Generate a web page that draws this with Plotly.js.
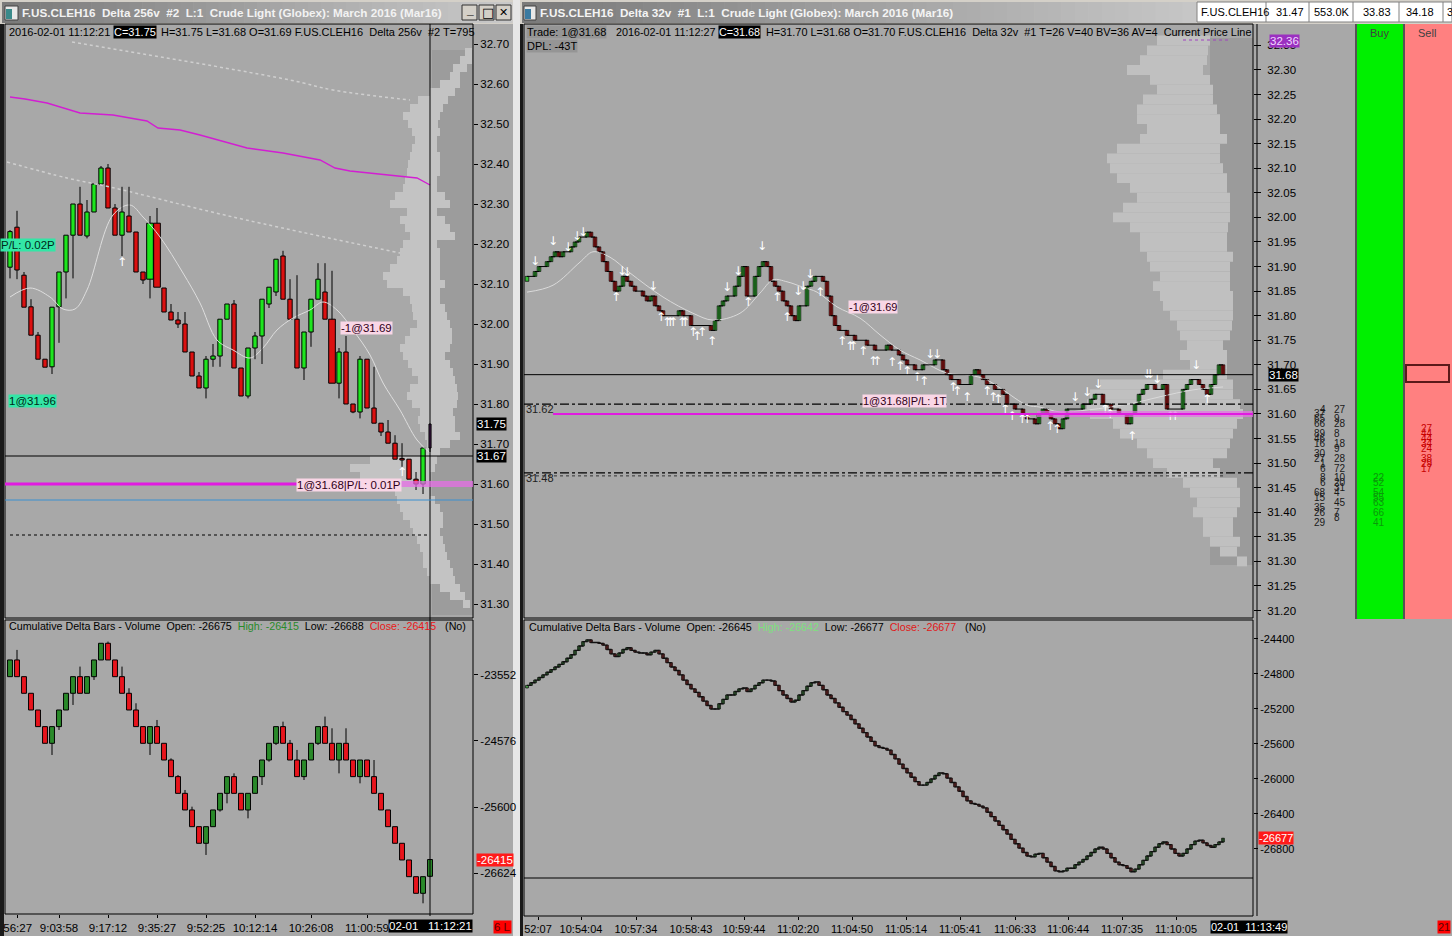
<!DOCTYPE html>
<html><head><meta charset="utf-8">
<script src="https://cdn.plot.ly/plotly-3.0.1.min.js"></script>
<style>html,body{margin:0;padding:0;background:#a8a8a8;overflow:hidden}</style>
</head><body><div id="chart" style="width:1452px;height:936px"></div>
<script>
// ================= DATA =================
// Left window: Delta 256v price bars
const leftOpen  = [32.142,32.242,32.122,32.043,31.972,31.912,31.893,32.043,32.13,32.222, 32.30,32.22,32.28,32.35,32.39,32.29,32.222,32.27,32.23,32.13, 32.112,32.252,32.09,32.03,32.01,32.00,31.93,31.87,31.84,31.912, 31.92,32.012,32.05,31.89,31.82,31.94,31.97,32.05,32.08,32.17, 32.062,32.012,31.89,31.98,32.062,32.08,32.012,31.852,31.93,31.80, 31.78,31.912,31.79,31.752,31.73,31.702,31.662,31.662,31.612,31.60, 31.69];
const leftHigh  = [32.235,32.283,32.13,32.062,31.98,31.912,32.042,32.13,32.222,32.30, 32.343,32.31,32.35,32.395,32.40,32.30,32.343,32.343,32.23,32.13, 32.27,32.29,32.09,32.05,32.03,32.03,31.93,31.88,31.92,31.95, 32.012,32.05,32.06,31.89,31.94,31.98,32.062,32.092,32.162,32.183, 32.112,32.122,31.98,32.062,32.152,32.152,32.133,31.94,31.97,31.80, 31.92,31.912,31.893,31.752,31.76,31.722,31.702,31.662,31.63,31.69, 31.75];
const leftLow   = [32.114,32.112,32.042,31.972,31.912,31.892,31.875,31.953,32.064,32.114, 32.222,32.214,32.28,32.35,32.29,32.222,32.17,32.23,32.13,32.10, 32.064,32.092,32.03,32.01,31.99,31.93,31.87,31.84,31.814,31.893, 31.893,32.012,31.89,31.82,31.814,31.912,31.90,32.04,32.07,32.062, 32.012,31.89,31.86,31.943,32.062,32.012,31.852,31.814,31.80,31.777, 31.764,31.79,31.752,31.72,31.702,31.662,31.643,31.612,31.585,31.575, 31.68];
const leftClose = [32.231,32.135,32.042,31.972,31.912,31.892,32.042,32.13,32.222,32.30, 32.222,32.28,32.35,32.39,32.29,32.222,32.28,32.23,32.13,32.11, 32.252,32.092,32.03,32.01,32.00,31.93,31.87,31.84,31.912,31.92, 32.012,32.05,31.89,31.82,31.94,31.97,32.062,32.092,32.162,32.062, 32.012,31.89,31.98,32.062,32.112,32.012,31.852,31.93,31.80,31.78, 31.912,31.79,31.752,31.73,31.702,31.662,31.66,31.612,31.60,31.69, 31.75];
// moving average / VWAP / bands (bar index, price)
const leftMaIdx = [0,2.86,5.71,7.57,9.29,11,14.71,17.14,19,21.43,24.71,27.14,29.57,31.86,34.29,36.14,38.14,40.43,42.86,44.71,46.71,49,51.43,53.29,55.71,58.14,60];
const leftMaVal = [32.0675,32.09,32.0675,32.0375,32.0375,32.085,32.2725,32.2975,32.2675,32.2175,32.1275,32.0525,31.96,31.935,31.915,31.94,31.985,32.015,32.035,32.055,32.035,31.985,31.9225,31.8525,31.785,31.71,31.6775];
const vwapIdx = [0,2.14,5.29,10,14.71,19.57,21.14,24.29,27.14,33.86,39,44.29,46.43,48.57,58.14,60];
const vwapVal = [32.5675,32.5625,32.5525,32.5275,32.5225,32.5075,32.49,32.485,32.4725,32.44,32.4275,32.41,32.39,32.3825,32.365,32.3475];
const bandHiIdx = [8.86,40,46.14,57.14];
const bandHiVal = [32.705,32.61,32.585,32.56];
const bandLoIdx = [-0.43,8.14,14.29,31.86,55.71];
const bandLoVal = [32.405,32.365,32.3425,32.2675,32.1775];
const leftUpIdx = [16,56];
const leftUpPx  = [32.1525,31.6275];
// left volume profile (price, total, inner)
const lpPrice = [32.68,32.66,32.64,32.62,32.60,32.58,32.56,32.54,32.52,32.50,32.48,32.46,32.44,32.42,32.40,32.38,32.36,32.34,32.32,32.30,32.28,32.26,32.24,32.22,32.20,32.18,32.16,32.14,32.12,32.10,32.08,32.06,32.04,32.02,32.00,31.98,31.96,31.94,31.92,31.90,31.88,31.86,31.84,31.82,31.80,31.78,31.76,31.74,31.72,31.70,31.68,31.66,31.64,31.62,31.60,31.58,31.56,31.54,31.52,31.50,31.48,31.46,31.44,31.42,31.40,31.38,31.36,31.34,31.32,31.30];
const lpTotal = [8,13,20,23,33,43,55,63,70,65,61,58,61,63,65,66,68,70,78,83,66,73,68,63,70,73,76,83,90,86,70,63,61,60,56,63,68,73,70,65,61,55,63,66,61,53,55,53,48,46,53,103,123,113,80,78,76,73,70,63,60,56,53,50,50,46,43,33,23,10];
const lpInner = [1,1,6,13,13,18,25,30,33,35,33,36,36,33,33,33,36,36,28,23,36,28,23,18,36,33,33,33,33,28,33,33,28,26,23,21,21,23,28,23,20,18,16,15,16,20,18,18,13,23,33,36,38,43,43,43,38,33,30,30,33,30,28,26,23,20,18,13,8,3];
// left cumulative delta bars
const lcdOpen  = [-23578,-23319,-23578,-23836,-24095,-24353,-24612,-24353,-24095,-23836, -23578,-23836,-23578,-23319,-23060,-23319,-23578,-23836,-24095,-24353, -24612,-24353,-24612,-24871,-25129,-25388,-25646,-25905,-26163,-25905, -25646,-25388,-25129,-25388,-25646,-25388,-25129,-24871,-24612,-24353, -24612,-24871,-25129,-24871,-24612,-24353,-24612,-24871,-24612,-24871, -25129,-24871,-25129,-25388,-25646,-25905,-26163,-26422,-26681,-26939, -26675];
const lcdClose = [-23319,-23578,-23836,-24095,-24353,-24612,-24353,-24095,-23836,-23578, -23836,-23578,-23319,-23060,-23319,-23578,-23836,-24095,-24353,-24612, -24353,-24612,-24871,-25129,-25388,-25646,-25905,-26163,-25905,-25646, -25388,-25129,-25388,-25646,-25388,-25129,-24871,-24612,-24353,-24612, -24871,-25129,-24871,-24612,-24353,-24612,-24871,-24612,-24871,-25129, -24871,-25129,-25388,-25646,-25905,-26163,-26422,-26681,-26939,-26681, -26415];
const lcdHigh  = [-23319,-23163,-23578,-23836,-24095,-24353,-24353,-24095,-23836,-23578, -23422,-23578,-23319,-23060,-23034,-23319,-23422,-23758,-23991,-24353, -24353,-24250,-24612,-24845,-25104,-25336,-25595,-25905,-25905,-25646, -25388,-25129,-25078,-25388,-25388,-25129,-24871,-24612,-24353,-24276, -24560,-24715,-24871,-24612,-24353,-24198,-24379,-24612,-24379,-24871, -24871,-24871,-24871,-25388,-25646,-25905,-26163,-26422,-26681,-26681, -26415];
const lcdLow   = [-23578,-23578,-23836,-24095,-24353,-24612,-24793,-24405,-24095,-24017, -23836,-23836,-23629,-23319,-23319,-23578,-23836,-24095,-24353,-24612, -24793,-24612,-24871,-25129,-25388,-25646,-25905,-26163,-26344,-25905, -25672,-25543,-25388,-25646,-25776,-25388,-25259,-24897,-24638,-24612, -24871,-25129,-25181,-24871,-24638,-24612,-24871,-25078,-24871,-25129, -25233,-25129,-25388,-25646,-25905,-26163,-26422,-26681,-26939,-27094, -26688];
const leftTimeIdx  = [1.1,7,14,21,28,35,43,51];
const leftTimeText = ['56:27','9:03:58','9:17:12','9:35:27','9:52:25','10:12:14','10:26:08','11:00:59'];
const lcdTicks = [-23552,-24576,-25600,-26624];

// Right window: Delta 32v price bars (closes; each bar opens at the previous close)
const rightFirstOpen = 31.87;
const rightClose = [31.88,31.88,31.89,31.90,31.90,31.91,31.92,31.93,31.92,31.93, 31.93,31.94,31.95,31.96,31.96,31.97,31.96,31.94,31.93,31.91, 31.89,31.87,31.85,31.86,31.88,31.87,31.86,31.85,31.85,31.84, 31.83,31.84,31.82,31.81,31.80,31.80,31.80,31.80,31.81,31.80, 31.80,31.78,31.78,31.78,31.78,31.78,31.77,31.79,31.82,31.83, 31.84,31.84,31.86,31.88,31.90,31.84,31.84,31.88,31.90,31.91, 31.90,31.87,31.86,31.85,31.83,31.82,31.80,31.79,31.82,31.82, 31.86,31.87,31.88,31.88,31.87,31.84,31.80,31.78,31.77,31.77, 31.76,31.76,31.75,31.75,31.75,31.74,31.74,31.73,31.73,31.73, 31.74,31.73,31.73,31.72,31.71,31.70,31.70,31.69,31.69,31.70, 31.70,31.70,31.71,31.71,31.69,31.68,31.67,31.67,31.66,31.66, 31.66,31.68,31.69,31.68,31.67,31.66,31.66,31.65,31.65,31.64, 31.62,31.62,31.61,31.61,31.60,31.59,31.59,31.58,31.60,31.61, 31.60,31.59,31.58,31.57,31.59,31.61,31.61,31.61,31.61,31.62, 31.62,31.63,31.64,31.64,31.62,31.62,31.61,31.61,31.60,31.60, 31.58,31.60,31.62,31.64,31.65,31.66,31.66,31.65,31.65,31.66, 31.61,31.61,31.61,31.61,31.65,31.66,31.67,31.67,31.66,31.65, 31.64,31.66,31.68,31.70,31.68];
const rightMaIdx = [0,6.5,13.25,16.5,20.75,25.75,34,41.5,46.5,53.25,58.25,61.5,65,69,72.5,77.5,83.25,88.25,93.25,98.25,105,110.75,115,119,125,128.25,133.25,140,145.75,151.5,158.25,166.5,174];
const rightMaVal = [31.848,31.862,31.909,31.930,31.919,31.887,31.838,31.805,31.791,31.805,31.846,31.873,31.869,31.858,31.848,31.818,31.795,31.761,31.730,31.710,31.683,31.679,31.669,31.649,31.618,31.614,31.604,31.608,31.614,31.622,31.635,31.649,31.655];
const rDnIdx = [2,6.5,10.25,12.5,14,23.75,25,31.5,50,52.75,58.75,67.75,69,70.75,100.75,102.5,137,140,142.75,155,155.75,157.5,167.25];
const rDnPx  = [31.909,31.95,31.938,31.96,31.968,31.889,31.887,31.858,31.856,31.889,31.94,31.848,31.858,31.883,31.72,31.72,31.633,31.643,31.659,31.679,31.679,31.669,31.698];
const rUpIdx = [22.25,33.5,35,35.75,36.5,38.75,39.5,41.5,42.5,43.75,46.25,55.25,62.5,65,73.25,78.75,80.75,81.5,84,86.5,87.5,91.25,93.25,95,97.5,99.25,106.5,107.5,110,115,116.5,117.75,119.5,121.25,123.75,125,130.75,132.5,144.5,145.75,151.25,160.75,162,170];
const rUpPx  = [31.836,31.795,31.785,31.785,31.785,31.785,31.785,31.765,31.757,31.765,31.746,31.826,31.836,31.795,31.846,31.746,31.736,31.736,31.726,31.706,31.706,31.704,31.696,31.685,31.673,31.665,31.653,31.645,31.633,31.645,31.633,31.628,31.608,31.594,31.588,31.588,31.573,31.567,31.608,31.598,31.553,31.594,31.594,31.628];
// right volume profile (price, total, inner)
const rpPrice = [32.36,32.34,32.32,32.30,32.28,32.26,32.24,32.22,32.20,32.18,32.16,32.14,32.12,32.10,32.08,32.06,32.04,32.02,32.00,31.98,31.96,31.94,31.92,31.90,31.88,31.86,31.84,31.82,31.80,31.78,31.76,31.74,31.72,31.70,31.68,31.66,31.64,31.62,31.60,31.58,31.56,31.54,31.52,31.50,31.48,31.46,31.44,31.42,31.40,31.38,31.36,31.34,31.32,31.30];
const rpTotal = [96,106,113,126,103,96,110,116,116,106,113,136,146,143,136,123,116,130,140,123,113,113,106,103,93,100,93,90,83,76,73,66,73,63,90,153,163,166,163,140,133,116,106,100,86,70,63,56,60,50,50,43,33,16];
const rpInner = [43,45,46,50,43,40,40,36,33,33,26,33,33,30,26,26,23,23,23,25,26,26,20,23,23,23,20,20,20,21,23,30,26,26,26,20,20,13,10,16,20,23,26,40,33,16,13,13,16,20,20,13,16,6];
// right cumulative delta (closes)
const rightCD = [-24930,-24900,-24870,-24840,-24810,-24780,-24750,-24720,-24690,-24660, -24620,-24580,-24530,-24480,-24430,-24410,-24440,-24440,-24450,-24470, -24520,-24570,-24600,-24560,-24520,-24500,-24530,-24550,-24560,-24560, -24580,-24550,-24530,-24570,-24620,-24670,-24720,-24760,-24810,-24870, -24920,-24970,-25010,-25060,-25110,-25160,-25200,-25200,-25140,-25090, -25040,-25040,-25000,-24970,-24960,-25000,-24970,-24930,-24900,-24870, -24870,-24880,-24930,-24990,-25040,-25080,-25120,-25100,-25040,-24990, -24940,-24900,-24890,-24930,-24980,-25040,-25080,-25130,-25180,-25230, -25270,-25320,-25370,-25420,-25470,-25520,-25570,-25620,-25640,-25650, -25670,-25720,-25770,-25830,-25880,-25930,-25980,-26030,-26070,-26070, -26040,-26000,-25960,-25930,-25940,-25990,-26040,-26090,-26140,-26200, -26250,-26280,-26290,-26310,-26330,-26380,-26430,-26480,-26530,-26580, -26630,-26690,-26740,-26790,-26840,-26880,-26890,-26860,-26850,-26900, -26950,-27000,-27050,-27060,-27050,-27020,-27020,-26980,-26950,-26920, -26880,-26840,-26800,-26780,-26800,-26850,-26900,-26950,-26980,-26990, -27020,-27060,-27030,-26980,-26930,-26880,-26830,-26780,-26740,-26720, -26750,-26800,-26850,-26880,-26850,-26800,-26750,-26710,-26700,-26730, -26760,-26780,-26750,-26720,-26677];
const rightCDFirstOpen = -24960;
const rightTimeIdx  = [2.75,13.5,27.25,41,54.25,67.75,81.25,94.75,108.25,122,135.25,148.75,162.25];
const rightTimeText = ['52:07','10:54:04','10:57:34','10:58:43','10:59:44','11:02:20','11:04:50','11:05:14','11:05:41','11:06:33','11:06:44','11:07:35','11:10:05'];
const rcdTicks = [-24400,-24800,-25200,-25600,-26000,-26400,-26800];
// DOM-style columns
const bidPx   = [31.61,31.60,31.59,31.58,31.56,31.55,31.54,31.52,31.51,31.50,31.49,31.47,31.46,31.44,31.43,31.41,31.40,31.38];
const bidVals = [4,37,65,66,89,46,16,30,27,1,6,8,6,68,15,35,26,29];
const askPx   = [31.61,31.59,31.58,31.56,31.54,31.53,31.51,31.49,31.47,31.46,31.45,31.44,31.42,31.40,31.39];
const askVals = [27,9,28,8,18,9,28,72,10,20,31,4,45,7,8];
const buyPx   = [31.47,31.46,31.44,31.43,31.42,31.40,31.38];
const buyVals = [22,52,54,55,63,66,41];
const sellPx  = [31.57,31.56,31.55,31.54,31.53,31.51,31.50,31.49];
const sellVals= [27,44,44,34,24,38,29,17];
// price levels
const leftLevels  = {current:31.67, vwapLine:31.60, blue:31.56, dotted:31.4725, lastBox:31.75};
const rightLevels = {current:31.68, dashHi:31.62, magenta:31.60, dashLo:31.48, dotted:31.474, topBox:32.36};
const quoteCells = ['F.US.CLEH16','31.47','553.0K','33.83','34.18','3'];

// ================= LAYOUT HELPERS =================
const W=1452,H=936;
const PX=x=>x/W, PY=y=>1-y/H;
const FONT='Liberation Sans';
const shapes=[], annotations=[];
function R(x0,y0,x1,y1,fill,o={}){shapes.push(Object.assign({type:'rect',xref:'paper',yref:'paper',x0:PX(x0),x1:PX(x1),y0:PY(y0),y1:PY(y1),fillcolor:fill,line:{width:0},layer:'below'},o));}
function Ln(x0,y0,x1,y1,color,width,o={}){shapes.push(Object.assign({type:'line',xref:'paper',yref:'paper',x0:PX(x0),x1:PX(x1),y0:PY(y0),y1:PY(y1),line:{color:color,width:width},layer:'above'},o));}
function HL(yref,price,x0,x1,color,width,dash,layer){shapes.push({type:'line',xref:'paper',yref:yref,x0:PX(x0),x1:PX(x1),y0:price,y1:price,line:{color:color,width:width,dash:dash||'solid'},layer:layer||'above'});}
function A(text,x,y,o={}){annotations.push(Object.assign({text:text,x:PX(x),y:PY(y),xref:'paper',yref:'paper',xanchor:'left',yanchor:'middle',showarrow:false,borderpad:0,font:{family:FONT,size:11,color:'#000'}},o));}
function hex(c){return [1,3,5].map(i=>parseInt(c.substr(i,2),16));}
function grad(x0,x1,y0,y1,c0,c1,n){const a=hex(c0),b=hex(c1);for(let k=0;k<n;k++){const t=k/(n-1);const c='rgb('+a.map((v,i)=>Math.round(v+(b[i]-v)*t)).join(',')+')';R(x0+(x1-x0)*k/n,y0,x0+(x1-x0)*(k+1)/n+0.6,y1,c);}}

// ================= TRACES =================
const traces=[];
function candleTraces(xa,ya,idx,o,h,l,c,colors,widths,minH,lineW){
  const wx=[],wy=[];
  idx.forEach((x,i)=>{const top=Math.max(o[i],c[i]),bot=Math.min(o[i],c[i]);
    if(h&&h[i]>top){wx.push(x,x,null);wy.push(top,h[i],null);}
    if(l&&l[i]<bot){wx.push(x,x,null);wy.push(l[i],bot,null);} });
  traces.push({type:'bar',xaxis:xa,yaxis:ya,x:idx,y:idx.map((_,i)=>Math.max(Math.abs(c[i]-o[i]),minH)),base:idx.map((_,i)=>Math.min(o[i],c[i])),width:widths,marker:{color:colors,line:{color:'#000',width:lineW}},hoverinfo:'skip'});
  traces.push({type:'scatter',mode:'lines',xaxis:xa,yaxis:ya,x:wx,y:wy,line:{color:'#000',width:1},hoverinfo:'skip'});
}

// --- left profile (base subplot x/y) ---
traces.push({type:'bar',orientation:'h',xaxis:'x',yaxis:'y',y:lpPrice,x:lpTotal.map((v,i)=>v-lpInner[i]),base:lpInner,width:0.02,marker:{color:'#c3c3c3',line:{width:0}},hoverinfo:'skip'});
// --- left lines ---
traces.push({type:'scatter',mode:'lines',xaxis:'x2',yaxis:'y',x:bandHiIdx,y:bandHiVal,line:{color:'#cfcfcf',width:1.5,dash:'dot',shape:'spline'},hoverinfo:'skip'});
traces.push({type:'scatter',mode:'lines',xaxis:'x2',yaxis:'y',x:bandLoIdx,y:bandLoVal,line:{color:'#cfcfcf',width:1.5,dash:'dot',shape:'spline'},hoverinfo:'skip'});
traces.push({type:'scatter',mode:'lines',xaxis:'x2',yaxis:'y',x:vwapIdx,y:vwapVal,line:{color:'#d21ed2',width:1.4},hoverinfo:'skip'});
traces.push({type:'scatter',mode:'lines',xaxis:'x2',yaxis:'y',x:leftMaIdx,y:leftMaVal,line:{color:'#dedede',width:1,shape:'spline'},hoverinfo:'skip'});
// --- left candles ---
const lIdx=leftClose.map((_,i)=>i);
const wideBars=[20,21,46];
const lastBar=leftClose.length-1;
const lCol=lIdx.map(i=>i===lastBar?'#7a2d8c':(leftClose[i]>leftOpen[i]?'#1ee61e':(leftClose[i]<leftOpen[i]?'#dc1010':'#000')));
const lWid=lIdx.map(i=>i===lastBar?0.3:(wideBars.includes(i)?0.95:0.62));
candleTraces('x2','y',lIdx,leftOpen,leftHigh,leftLow,leftClose,lCol,lWid,0.004,1);
traces.push({type:'scatter',mode:'text',xaxis:'x2',yaxis:'y',x:leftUpIdx,y:leftUpPx,text:leftUpIdx.map(()=>'↑'),textfont:{family:'DejaVu Sans',size:12,color:'#fff'},hoverinfo:'skip'});
// --- left cumulative delta ---
const lcdCol=lIdx.map(i=>lcdClose[i]>lcdOpen[i]?'#2a8a2a':'#e8141c');
candleTraces('x3','y3',lIdx,lcdOpen,lcdHigh,lcdLow,lcdClose,lcdCol,lIdx.map(()=>0.7),1,1);

// --- right profile ---
traces.push({type:'bar',orientation:'h',xaxis:'x4',yaxis:'y4',y:rpPrice,x:rpTotal.map((v,i)=>v-rpInner[i]),base:rpInner,width:0.02,marker:{color:'#c0c0c0',line:{width:0}},hoverinfo:'skip'});
// --- right price ---
const rIdx=rightClose.map((_,i)=>i);
const rOpen=rIdx.map(i=>i===0?rightFirstOpen:rightClose[i-1]);
const rSel=rIdx.filter(i=>rightClose[i]!==rOpen[i]);
traces.push({type:'scatter',mode:'lines',xaxis:'x5',yaxis:'y4',x:rightMaIdx,y:rightMaVal,line:{color:'#dadada',width:1,shape:'spline'},hoverinfo:'skip'});
traces.push({type:'bar',xaxis:'x5',yaxis:'y4',x:rSel,y:rSel.map(i=>Math.abs(rightClose[i]-rOpen[i])),base:rSel.map(i=>Math.min(rightClose[i],rOpen[i])),width:0.9,marker:{color:rSel.map(i=>rightClose[i]>rOpen[i]?'#35c035':'#c01818'),line:{color:'#000',width:0.7}},hoverinfo:'skip'});
traces.push({type:'scatter',mode:'lines',xaxis:'x5',yaxis:'y4',x:rIdx,y:rightClose,line:{color:'#000',width:1,shape:'hv'},hoverinfo:'skip'});
traces.push({type:'scatter',mode:'text',xaxis:'x5',yaxis:'y4',x:rDnIdx,y:rDnPx,text:rDnIdx.map(()=>'↓'),textfont:{family:'DejaVu Sans',size:12,color:'#fff'},hoverinfo:'skip'});
traces.push({type:'scatter',mode:'text',xaxis:'x5',yaxis:'y4',x:rUpIdx,y:rUpPx,text:rUpIdx.map(()=>'↑'),textfont:{family:'DejaVu Sans',size:12,color:'#fff'},hoverinfo:'skip'});
// --- right cumulative delta ---
const rcdOpen=rIdx.map(i=>i===0?rightCDFirstOpen:rightCD[i-1]);
traces.push({type:'bar',xaxis:'x6',yaxis:'y6',x:rIdx,y:rIdx.map(i=>Math.abs(rightCD[i]-rcdOpen[i])),base:rIdx.map(i=>Math.min(rightCD[i],rcdOpen[i])),width:0.7,marker:{color:rIdx.map(i=>rightCD[i]>rcdOpen[i]?'#4aa84a':'#b83030'),line:{color:'#000',width:0.7}},hoverinfo:'skip'});
traces.push({type:'scatter',mode:'lines',xaxis:'x6',yaxis:'y6',x:rIdx,y:rightCD,line:{color:'#111',width:1.3,shape:'hv'},hoverinfo:'skip'});
// --- DOM number columns ---
function numCol(px,vals,x,anchor,color){vals.forEach((v,i)=>A(String(v),x,0,{yref:'y4',y:px[i],xanchor:anchor,font:{family:FONT,size:10,color:color}}));}

// ================= FRAME SHAPES =================
R(0,0,1452,24,'#d4d0c8');
grad(2,512,2,23,'#7a7a7a','#c9c9c9',40);
grad(522,1196,2,23,'#7a7a7a','#c6c6c6',50);
R(0,24,4,936,'#1a1a1a');
R(513,0,520,936,'#e6e6e6');
R(520,24,523,936,'#1a1a1a');
R(5,6,18,20,'#e8e8e8',{line:{color:'#404040',width:1}}); R(6,9,12,19,'#3a8a8a');
R(524,6,536,20,'#e8e8e8',{line:{color:'#404040',width:1}}); R(525,9,531,19,'#3a7aa0');
[[462,477],[479,494],[496,511]].forEach(b=>R(b[0],5,b[1],20,'#d4d0c8',{line:{color:'#303030',width:1}}));
R(432,50,473,615,'#9c9c9c');
R(1210,38,1253,565,'#9b9b9b');
R(1357,24,1403,619,'#00f000');
R(1405,24,1452,619,'#ff8080');
Ln(1356,24,1356,619,'#000',1); Ln(1404,24,1404,619,'#000',1);
R(1406,365,1449,382,'rgba(0,0,0,0)',{layer:'above',line:{color:'#5a1a1a',width:2}});
R(1197,2,1452,22,'#ffffff',{line:{color:'#808080',width:1}});
[1266,1309,1353,1399,1443].forEach(x=>Ln(x,2,x,22,'#808080',1));
R(5,24,473,618,'rgba(0,0,0,0)',{layer:'above',line:{color:'#000',width:1}});
R(5,620,473,914,'rgba(0,0,0,0)',{layer:'above',line:{color:'#000',width:1}});
R(524,24,1253,618,'rgba(0,0,0,0)',{layer:'above',line:{color:'#000',width:1}});
R(524,620,1253,916,'rgba(0,0,0,0)',{layer:'above',line:{color:'#000',width:1}});
Ln(1257,24,1257,916,'#000',1);
Ln(524,878,1253,878,'#000',1);
Ln(430,24,430,916,'#000',1);
HL('y',leftLevels.current,5,473,'#000',1);
HL('y',leftLevels.vwapLine,395,473,'rgba(230,110,230,0.75)',6);
HL('y',leftLevels.vwapLine,5,395,'#e01be0',3);
HL('y',leftLevels.blue,5,473,'#3a90d0',1);
HL('y',leftLevels.dotted,10,430,'#000',1.2,'dot');
HL('y4',rightLevels.current,524,1253,'#000',1);
HL('y4',rightLevels.dashHi,524,1253,'#000',1.2,'dashdot');
HL('y4',rightLevels.dashLo,524,1253,'#000',1.2,'dashdot');
HL('y4',rightLevels.dotted,524,1225,'#333',1,'dot');
HL('y4',rightLevels.magenta,1037,1253,'rgba(230,110,230,0.7)',6);
HL('y4',rightLevels.magenta,553,1253,'#e01be0',2);
Ln(1183,40,1228,40,'#a040c0',1,{line:{color:'#a040c0',width:1,dash:'dot'}});

// ================= TEXT =================
const NB='\u00a0';
A('<b>F.US.CLEH16'+NB+NB+'Delta 256v'+NB+NB+'#2'+NB+NB+'L:1'+NB+NB+'Crude Light (Globex): March 2016 (Mar16)</b>',21,13,{font:{family:FONT,size:11.7,color:'#f2f2f2'}});
A('<b>F.US.CLEH16'+NB+NB+'Delta 32v'+NB+NB+'#1'+NB+NB+'L:1'+NB+NB+'Crude Light (Globex): March 2016 (Mar16)</b>',539,13,{font:{family:FONT,size:11.7,color:'#f4f4f4'}});
A('<b>_</b>',465,10,{font:{family:FONT,size:12,color:'#000'}});
A('□',481,13,{font:{family:'DejaVu Sans',size:13,color:'#000'}});
A('✕',498,13,{font:{family:'DejaVu Sans',size:11,color:'#000'}});
[[quoteCells[0],1200],[quoteCells[1],1275],[quoteCells[2],1313],[quoteCells[3],1362],[quoteCells[4],1405],[quoteCells[5],1446]].forEach(c=>A(c[0],c[1],12,{font:{family:FONT,size:11,color:'#000'}}));
A('2016-02-01 11:12:21',8,32);
A('C=31.75',113,32,{bgcolor:'#000',font:{family:FONT,size:11,color:'#fff'}});
A('H=31.75 L=31.68 O=31.69 F.US.CLEH16'+NB+NB+'Delta 256v'+NB+NB+'#2 T=795',160,32);
A('Trade: 1@31.68',526,32,{bgcolor:'#959595',font:{family:FONT,size:11,color:'#000'}});
A('2016-02-01 11:12:27',615,32,{font:{family:FONT,size:10.8,color:'#000'}});
A('C=31.68',718,32,{bgcolor:'#000',font:{family:FONT,size:10.8,color:'#fff'}});
A('H=31.70 L=31.68 O=31.70 F.US.CLEH16'+NB+NB+'Delta 32v'+NB+NB+'#1 T=26 V=40 BV=36 AV=4'+NB+NB+'Current Price Line',765,32,{font:{family:FONT,size:10.9,color:'#000'}});
A('DPL: -43T',526,46,{bgcolor:'#959595',font:{family:FONT,size:11,color:'#000'}});
A('Cumulative Delta Bars - Volume'+NB+NB+'Open: -26675'+NB+NB+'<span style="color:#2a8a2a">High: -26415</span>'+NB+NB+'Low: -26688'+NB+NB+'<span style="color:#e81818">Close: -26415</span>'+NB+NB+NB+'(No)',8,626,{font:{family:FONT,size:10.7,color:'#000'}});
A('Cumulative Delta Bars - Volume'+NB+NB+'Open: -26645'+NB+NB+'<span style="color:#7ee07e">High: -26642</span>'+NB+NB+'Low: -26677'+NB+NB+'<span style="color:#e01818">Close: -26677</span>'+NB+NB+NB+'(No)',528,627,{font:{family:FONT,size:10.7,color:'#000'}});
const teal='#33e6a6', pink='#f9d6e6';
A('P/L: 0.02P',0,245,{bgcolor:teal,font:{family:FONT,size:11.5,color:'#002a1a'}});
A('1@31.96',8,401,{bgcolor:teal,font:{family:FONT,size:11.5,color:'#002a1a'}});
A('-1@31.69',340,328,{bgcolor:pink,font:{family:FONT,size:11.5,color:'#300018'}});
A('1@31.68|P/L: 0.01P',296,485,{bgcolor:pink,font:{family:FONT,size:11.5,color:'#300018'}});
A('-1@31.69',848,307,{bgcolor:pink,font:{family:FONT,size:11,color:'#300018'}});
A('1@31.68|P/L: 1T',862,401,{bgcolor:pink,font:{family:FONT,size:11,color:'#300018'}});
A('31.62',525,409,{font:{family:FONT,size:11,color:'#202020'}});
A('31.48',525,478,{font:{family:FONT,size:11,color:'#202020'}});
A(leftLevels.lastBox.toFixed(2),476,0,{yref:'y',y:leftLevels.lastBox,bgcolor:'#000',font:{family:FONT,size:11.5,color:'#fff'}});
A(leftLevels.current.toFixed(2),476,0,{yref:'y',y:leftLevels.current,bgcolor:'#000',font:{family:FONT,size:11.5,color:'#fff'}});
A(rightLevels.current.toFixed(2),1268,0,{yref:'y4',y:rightLevels.current,bgcolor:'#000',font:{family:FONT,size:11.5,color:'#fff'}});
A(rightLevels.topBox.toFixed(2),1269,0,{yref:'y4',y:rightLevels.topBox,bgcolor:'#9b30c0',font:{family:FONT,size:11.5,color:'#f0d8ff'}});
A(String(lcdClose[lastBar]),476,0,{yref:'y3',y:lcdClose[lastBar],bgcolor:'#ff1a1a',font:{family:FONT,size:11.5,color:'#fff'}});
A(String(rightCD[rightCD.length-1]),1258,0,{yref:'y6',y:rightCD[rightCD.length-1],bgcolor:'#ff1a1a',font:{family:FONT,size:11,color:'#fff'}});
A('02-01'+NB+NB+NB+'11:12:21',430,926,{xanchor:'center',bgcolor:'#000',font:{family:FONT,size:11.5,color:'#fff'}});
A('02-01'+NB+NB+'11:13:49',1249,927,{xanchor:'center',bgcolor:'#000',font:{family:FONT,size:11,color:'#fff'}});
A('6 L',493,927,{bgcolor:'#ff0000',font:{family:FONT,size:11.5,color:'#5a0000'}});
A('21',1437,927,{bgcolor:'#ff0000',font:{family:FONT,size:11,color:'#5a0000'}});
A('Buy',1379,33,{xanchor:'center',font:{family:FONT,size:11,color:'#404040'}});
A('Sell',1427,33,{xanchor:'center',font:{family:FONT,size:11,color:'#404040'}});
numCol(bidPx,bidVals,1327,'right','#1a1a1a');
numCol(askPx,askVals,1333,'left','#1a1a1a');
numCol(buyPx,buyVals,1379,'center','#0a9a0a');
numCol(sellPx,sellVals,1427,'center','#c80000');

// ================= AXES =================
const tf=(s)=>({family:FONT,size:s,color:'#000'});
const base={showgrid:false,zeroline:false,showline:false,fixedrange:true};
const layout={
  width:W,height:H,margin:{l:0,r:0,t:0,b:0},
  paper_bgcolor:'#a8a8a8',plot_bgcolor:'rgba(0,0,0,0)',
  barmode:'overlay',showlegend:false,hovermode:false,
  font:{family:FONT,size:11,color:'#000'},
  xaxis: Object.assign({},base,{domain:[PX(5),PX(473)],range:[468,0],visible:false,anchor:'y'}),
  xaxis2:Object.assign({},base,{overlaying:'x',anchor:'y',range:[-0.714,66.14],visible:false}),
  yaxis: Object.assign({},base,{domain:[PY(618),PY(24)],range:[31.265,32.75],side:'right',anchor:'x',tick0:31.3,dtick:0.1,tickformat:'.2f',ticks:'outside',ticklen:4,tickcolor:'#000',tickfont:tf(11.5)}),
  xaxis3:Object.assign({},base,{domain:[PX(5),PX(473)],range:[-0.714,66.14],anchor:'y3',tickvals:leftTimeIdx,ticktext:leftTimeText,ticks:'outside',ticklen:3,tickcolor:'#000',tickfont:tf(11.5)}),
  yaxis3:Object.assign({},base,{domain:[PY(914),PY(620)],range:[-27260,-22699],side:'right',anchor:'x3',tickvals:lcdTicks,ticktext:lcdTicks.map(String),ticks:'outside',ticklen:4,tickcolor:'#000',tickfont:tf(11.5)}),
  xaxis4:Object.assign({},base,{domain:[PX(524),PX(1253)],range:[729,0],visible:false,anchor:'y4'}),
  xaxis5:Object.assign({},base,{overlaying:'x4',anchor:'y4',range:[-0.75,181.5],visible:false}),
  yaxis4:Object.assign({},base,{domain:[PY(618),PY(24)],range:[31.1848,32.3936],side:'right',anchor:'x4',tick0:31.2,dtick:0.05,tickformat:'.2f',ticks:'outside',ticklen:7,tickcolor:'#000',ticklabelstandoff:4,tickfont:tf(11.5)}),
  xaxis6:Object.assign({},base,{domain:[PX(524),PX(1253)],range:[-0.75,181.5],anchor:'y6',tickvals:rightTimeIdx,ticktext:rightTimeText,ticks:'outside',ticklen:3,tickcolor:'#000',tickfont:tf(11)}),
  yaxis6:Object.assign({},base,{domain:[PY(916),PY(620)],range:[-27566,-24183],side:'right',anchor:'x6',tickvals:rcdTicks,ticktext:rcdTicks.map(String),ticks:'outside',ticklen:4,tickcolor:'#000',tickfont:tf(11)}),
  shapes:shapes,annotations:annotations
};
Plotly.newPlot('chart',traces,layout,{staticPlot:true,displayModeBar:false});
</script></body></html>
